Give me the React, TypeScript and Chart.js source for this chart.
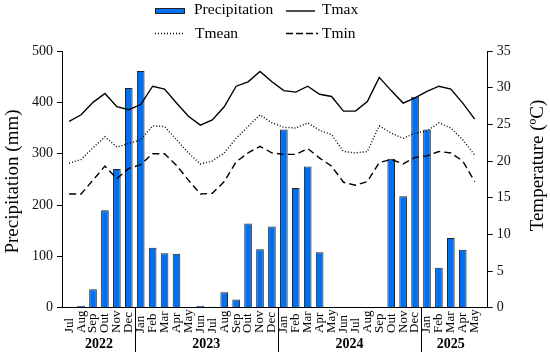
import { useEffect, useRef } from "react";
import { Chart, registerables } from "chart.js";

Chart.register(...registerables);

const months = [
  "Jul", "Aug", "Sep", "Out", "Nov", "Dec",
  "Jan", "Feb", "Mar", "Apr", "May", "Jun", "Jul", "Aug", "Sep", "Out", "Nov", "Dec",
  "Jan", "Feb", "Mar", "Apr", "May", "Jun", "Jul", "Aug", "Sep", "Out", "Nov", "Dec",
  "Jan", "Feb", "Mar", "Apr", "May",
];
const years = ["2022", "2023", "2024", "2025"];
const monthsPerYear = [6, 12, 12, 5];

const precipitation = [
  0, 4, 36, 190, 270, 428,
  461, 117, 106, 105, 0, 4, 2, 30, 16, 164, 114, 158,
  347, 233, 275, 108, 0, 0, 0, 0, 0, 290, 217, 411,
  347, 78, 136, 113, 0,
];
const tmax = [
  25.4, 26.3, 28.0, 29.2, 27.4, 27.0,
  27.7, 30.2, 29.8, 27.9, 26.1, 24.9, 25.6, 27.4, 30.2, 30.8, 32.2, 30.8,
  29.6, 29.4, 30.2, 29.1, 28.8, 26.8, 26.8, 28.1, 31.4, 29.6, 27.9, 28.6,
  29.5, 30.2, 29.8, 27.9, 25.7,
];
const tmean = [
  19.7, 20.2, 21.8, 23.3, 21.9, 22.4,
  22.9, 24.8, 24.7, 22.9, 21.1, 19.6, 20.0, 21.1, 23.1, 24.7, 26.3, 25.2,
  24.6, 24.5, 25.2, 24.2, 23.6, 21.3, 21.1, 21.3, 24.8, 23.8, 23.1, 23.8,
  24.1, 25.2, 24.5, 22.9, 20.8,
];
const tmin = [
  15.5, 15.5, 17.4, 19.3, 17.6, 19.0,
  19.5, 21.0, 21.0, 19.4, 17.4, 15.5, 15.6, 17.2, 19.9, 21.1, 22.0, 21.1,
  20.9, 20.9, 21.7, 20.4, 19.3, 17.1, 16.7, 17.2, 19.8, 20.2, 19.6, 20.5,
  20.7, 21.3, 21.1, 20.0, 17.2,
];

const BAR_BLUE = "#0070F0";
const FONT = '"Liberation Serif", "Times New Roman", serif';

const toPoints = (arr: number[]) => arr.map((v, i) => ({ x: i, y: v }));

const decorPlugin = {
  id: "decor",
  afterDraw(chart: any) {
    const ctx: CanvasRenderingContext2D = chart.ctx;
    const xs = chart.scales.x;
    const area = chart.chartArea;
    ctx.save();
    ctx.fillStyle = "#000";
    ctx.strokeStyle = "#000";

    // month labels
    ctx.font = `13px ${FONT}`;
    ctx.textAlign = "left";
    ctx.textBaseline = "middle";
    months.forEach((m, i) => {
      const px = xs.getPixelForValue(i);
      ctx.save();
      ctx.translate(px, 333);
      ctx.rotate(-Math.PI / 2);
      ctx.fillText(m, 0, 0);
      ctx.restore();
    });

    // year labels and separators
    ctx.font = `bold 14px ${FONT}`;
    ctx.textAlign = "center";
    ctx.textBaseline = "alphabetic";
    let start = 0;
    years.forEach((y, k) => {
      const n = monthsPerYear[k];
      const mid = (xs.getPixelForValue(start) + xs.getPixelForValue(start + n - 1)) / 2;
      ctx.fillText(y, mid, 348);
      if (k > 0) {
        const sx = Math.round(xs.getPixelForValue(start - 0.5)) + 0.5;
        ctx.lineWidth = 1;
        ctx.beginPath();
        ctx.moveTo(sx, area.bottom);
        ctx.lineTo(sx, 352);
        ctx.stroke();
      }
      start += n;
    });

    // axis titles
    ctx.font = `19px ${FONT}`;
    ctx.textAlign = "center";
    ctx.textBaseline = "middle";
    ctx.save();
    ctx.translate(13, 181.5);
    ctx.rotate(-Math.PI / 2);
    ctx.fillText("Precipitation (mm)", 0, 0);
    ctx.restore();
    ctx.save();
    ctx.translate(538, 165.5);
    ctx.rotate(-Math.PI / 2);
    ctx.fillText("Temperature (ºC)", 0, 0);
    ctx.restore();

    // legend
    ctx.font = `15.5px ${FONT}`;
    ctx.textAlign = "left";
    ctx.textBaseline = "alphabetic";
    ctx.fillStyle = BAR_BLUE;
    ctx.fillRect(155.5, 8.5, 29, 5);
    ctx.lineWidth = 1;
    ctx.strokeStyle = "#222";
    ctx.strokeRect(155.5, 8.5, 29, 5);
    ctx.fillStyle = "#000";
    ctx.fillText("Precipitation", 194, 14);
    ctx.strokeStyle = "#000";
    ctx.lineWidth = 1.4;
    ctx.beginPath();
    ctx.moveTo(286, 11);
    ctx.lineTo(315, 11);
    ctx.stroke();
    ctx.fillText("Tmax", 322, 14);
    ctx.setLineDash([1, 2]);
    ctx.beginPath();
    ctx.moveTo(155, 33.5);
    ctx.lineTo(184, 33.5);
    ctx.stroke();
    ctx.setLineDash([]);
    ctx.fillText("Tmean", 195, 37.5);
    ctx.setLineDash([7, 3]);
    ctx.beginPath();
    ctx.moveTo(286, 33.5);
    ctx.lineTo(318, 33.5);
    ctx.stroke();
    ctx.setLineDash([]);
    ctx.fillText("Tmin", 322, 37.5);

    ctx.restore();
  },
};

export default function App() {
  const ref = useRef<HTMLCanvasElement | null>(null);

  useEffect(() => {
    if (!ref.current) return;
    Chart.defaults.font.family = FONT;
    Chart.defaults.color = "#000";
    const lineCommon = {
      type: "line" as const,
      yAxisID: "y1",
      borderColor: "#000",
      borderWidth: 1.4,
      pointRadius: 0,
      tension: 0,
      fill: false,
      order: 0,
    };
    const chart = new Chart(ref.current, {
      type: "bar",
      data: {
        datasets: [
          {
            type: "bar",
            label: "Precipitation",
            data: toPoints(precipitation),
            yAxisID: "y",
            backgroundColor: BAR_BLUE,
            borderColor: "#222",
            borderWidth: 1,
            categoryPercentage: 0.8,
            barPercentage: 0.8,
            order: 1,
          },
          { ...lineCommon, label: "Tmax", data: toPoints(tmax) },
          { ...lineCommon, label: "Tmean", data: toPoints(tmean), borderDash: [1, 2] },
          { ...lineCommon, label: "Tmin", data: toPoints(tmin), borderDash: [7, 4] },
        ] as any,
      },
      options: {
        responsive: false,
        animation: false,
        layout: { padding: { top: 51, left: 0, right: 0, bottom: 0 } },
        plugins: { legend: { display: false }, tooltip: { enabled: false } },
        scales: {
          x: {
            type: "linear",
            offset: false,
            min: -0.6,
            max: 35.09,
            grid: { display: false, offset: false },
            border: { display: true, color: "#000", width: 1 },
            ticks: { display: false },
            afterFit: (s: any) => {
              s.height = 48.3;
            },
          },
          y: {
            position: "left",
            min: 0,
            max: 500,
            ticks: { stepSize: 100, font: { size: 14, family: FONT }, color: "#111", padding: 4 },
            grid: { drawOnChartArea: false, drawTicks: true, tickLength: 5, tickColor: "#000" },
            border: { display: true, color: "#000", width: 1 },
            afterFit: (s: any) => {
              s.width = 62;
            },
          },
          y1: {
            position: "right",
            min: 0,
            max: 35,
            ticks: { stepSize: 5, font: { size: 14, family: FONT }, color: "#111", padding: 4 },
            grid: { drawOnChartArea: false, drawTicks: true, tickLength: 5, tickColor: "#000" },
            border: { display: true, color: "#000", width: 1 },
            afterFit: (s: any) => {
              s.width = 62.3;
            },
          },
        },
      } as any,
      plugins: [decorPlugin],
    });
    return () => chart.destroy();
  }, []);

  return (
    <div style={{ position: "fixed", left: 0, top: 0, width: 550, height: 356, background: "#fff" }}>
      <canvas ref={ref} width={550} height={356} style={{ display: "block" }} />
    </div>
  );
}
